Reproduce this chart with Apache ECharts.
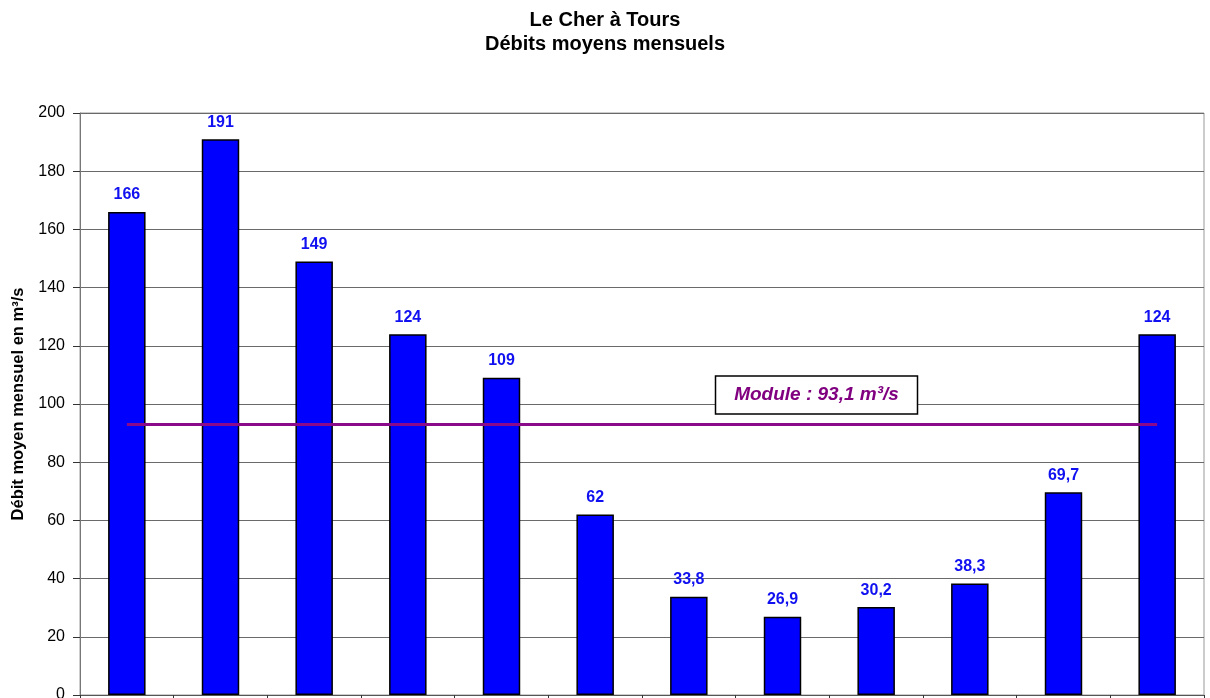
<!DOCTYPE html>
<html>
<head>
<meta charset="utf-8">
<script src="https://cdn.jsdelivr.net/npm/echarts@6/dist/echarts.min.js"></script>
<style>
html,body{margin:0;padding:0;background:#fff;}
#chart{width:1210px;height:698px;}
</style>
</head>
<body>
<div id="chart"></div>
<script>
// Monthly mean discharge of the Cher at Tours (m3/s)
const months = ['Janvier','Février','Mars','Avril','Mai','Juin','Juillet','Août','Septembre','Octobre','Novembre','Décembre'];
const debits = [166, 191, 149, 124, 109, 62, 33.8, 26.9, 30.2, 38.3, 69.7, 124];
const moduleAnnuel = 93.1;
const yTicks = [0, 20, 40, 60, 80, 100, 120, 140, 160, 180, 200];

const fmt = v => String(v).replace('.', ',');

const chart = echarts.init(document.getElementById('chart'), null, {renderer: 'canvas'});
const font = 'Arial, "Liberation Sans", sans-serif';

chart.setOption({
  animation: false,
  backgroundColor: '#fff',
  title: {
    text: 'Le Cher à Tours\nDébits moyens mensuels',
    left: 'center',
    top: 3,
    textStyle: {fontFamily: font, fontSize: 20, fontWeight: 'bold', color: '#000', lineHeight: 24}
  },
  grid: {left: 80, right: 6, top: 113, bottom: 3, containLabel: false,
         outerBoundsMode: 'none',
         show: true, borderColor: '#9a9a9a', borderWidth: 1},
  xAxis: {
    type: 'category',
    data: months,
    axisLine: {lineStyle: {color: '#555', width: 1}},
    axisTick: {show: true, alignWithLabel: false, length: 6, lineStyle: {color: '#333'}},
    axisLabel: {show: false}
  },
  yAxis: {
    type: 'value',
    min: yTicks[0],
    max: yTicks[yTicks.length - 1],
    interval: yTicks[1] - yTicks[0],
    name: 'Débit moyen mensuel en m³/s',
    nameLocation: 'middle',
    nameGap: 52,
    nameTextStyle: {fontFamily: font, fontSize: 16.5, fontWeight: 'bold', color: '#000'},
    axisLine: {show: true, lineStyle: {color: '#777', width: 1}},
    axisTick: {show: true, length: 7, lineStyle: {color: '#333'}},
    axisLabel: {fontFamily: font, fontSize: 16, color: '#000', margin: 15},
    splitLine: {show: true, lineStyle: {color: '#6a6a6a', width: 1}}
  },
  series: [{
    type: 'bar',
    data: debits,
    barWidth: '40%',
    itemStyle: {color: '#0000FF', borderColor: '#000', borderWidth: 1.5},
    label: {
      show: true,
      position: 'top',
      distance: 9,
      fontFamily: font,
      fontSize: 16,
      fontWeight: 'bold',
      color: '#1010F0',
      formatter: p => fmt(p.value)
    },
    markLine: {
      silent: true,
      symbol: 'none',
      label: {show: false},
      lineStyle: {color: '#8B0A8B', width: 3, type: 'solid'},
      data: [[{coord: [0, moduleAnnuel]}, {coord: [11, moduleAnnuel]}]]
    }
  }]
});

// Boxed caption for the annual mean, placed above the mean line
const anchor = chart.convertToPixel({xAxisIndex: 0, yAxisIndex: 0}, [7, moduleAnnuel + 10]);
const boxW = 202, boxH = 38;
const cx = anchor[0] + 34;
chart.setOption({
  graphic: [{
    type: 'group',
    x: cx - boxW / 2,
    y: anchor[1] - boxH / 2,
    children: [
      {type: 'rect', shape: {x: 0, y: 0, width: boxW, height: boxH},
       style: {fill: '#fff', stroke: '#000', lineWidth: 1.5}},
      {type: 'text', x: boxW / 2, y: boxH / 2,
       style: {text: 'Module : ' + fmt(moduleAnnuel) + ' m³/s', fill: '#800080',
               font: 'italic bold 19px Arial, "Liberation Sans", sans-serif',
               align: 'center', verticalAlign: 'middle'}}
    ]
  }]
});
</script>
</body>
</html>
